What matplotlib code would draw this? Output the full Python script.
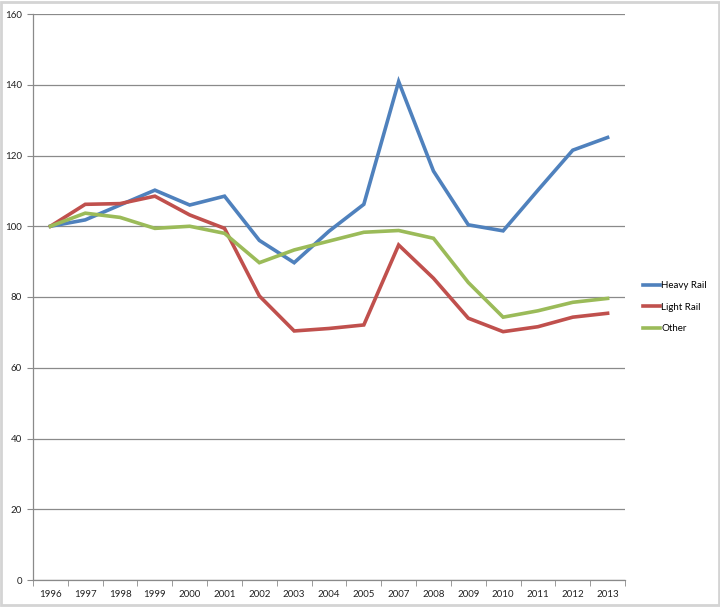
import matplotlib.pyplot as plt
from matplotlib.patches import Rectangle

plt.rcParams['font.family'] = ['Lato', 'DejaVu Sans']

# Data (index, 1996 = 100; no 2006 in the source)
years = ["1996", "1997", "1998", "1999", "2000", "2001", "2002", "2003", "2004",
         "2005", "2007", "2008", "2009", "2010", "2011", "2012", "2013"]
heavy_rail = [100, 101.8, 106, 110.2, 106, 108.5, 96, 89.7, 98.6, 106.2,
              140.9, 115.6, 100.4, 98.7, 110.2, 121.5, 125.1]
light_rail = [100, 106.2, 106.4, 108.5, 103.2, 99.4, 80.3, 70.4, 71.1, 72.1,
              94.7, 85.3, 74, 70.2, 71.6, 74.3, 75.4]
other = [100, 103.7, 102.5, 99.4, 100, 98, 89.7, 93.3, 95.8, 98.3,
         98.8, 96.6, 84.1, 74.3, 76.1, 78.5, 79.6]

fig = plt.figure(figsize=(7.2, 6.07), dpi=100)
ax = fig.add_axes([33 / 720, 27 / 607, 592 / 720, 566 / 607])

x = list(range(len(years)))
ax.plot(x, heavy_rail, color="#4F81BD", lw=2.6, label="Heavy Rail", solid_joinstyle="miter")
ax.plot(x, light_rail, color="#C0504D", lw=2.6, label="Light Rail", solid_joinstyle="miter")
ax.plot(x, other, color="#9BBB59", lw=2.6, label="Other", solid_joinstyle="miter")

# axes
ax.set_xlim(-0.5, len(years) - 0.5)
ax.set_ylim(0, 160)
ax.set_yticks(range(0, 161, 20))
ax.grid(axis="y", color="#8a8a8a", lw=0.9)
ax.set_axisbelow(True)

ax.set_xticks(x)
ax.set_xticklabels(years)
ax.set_xticks([i - 0.5 for i in range(len(years) + 1)], minor=True)
ax.tick_params(axis="x", which="major", length=0, pad=7, labelsize=7, colors="#222222")
ax.tick_params(axis="x", which="minor", length=4, color="#8a8a8a", direction="out")
ax.tick_params(axis="y", length=4, color="#8a8a8a", labelsize=7, pad=4, labelcolor="#222222")

for side in ["top", "right"]:
    ax.spines[side].set_visible(False)
for side in ["left", "bottom"]:
    ax.spines[side].set_color("#8a8a8a")
    ax.spines[side].set_linewidth(0.9)

ax.legend(loc="center left", bbox_to_anchor=(1.015, 0.482), frameon=False,
          fontsize=7, handlelength=1.8, handletextpad=0.1, labelspacing=1.3)

# light frame round the chart area
fig.patches.append(Rectangle((0.002, 0.003), 0.996, 0.994, transform=fig.transFigure,
                             fill=False, edgecolor="#d4d4d4", lw=2))

fig.savefig("out.png", dpi=100)
